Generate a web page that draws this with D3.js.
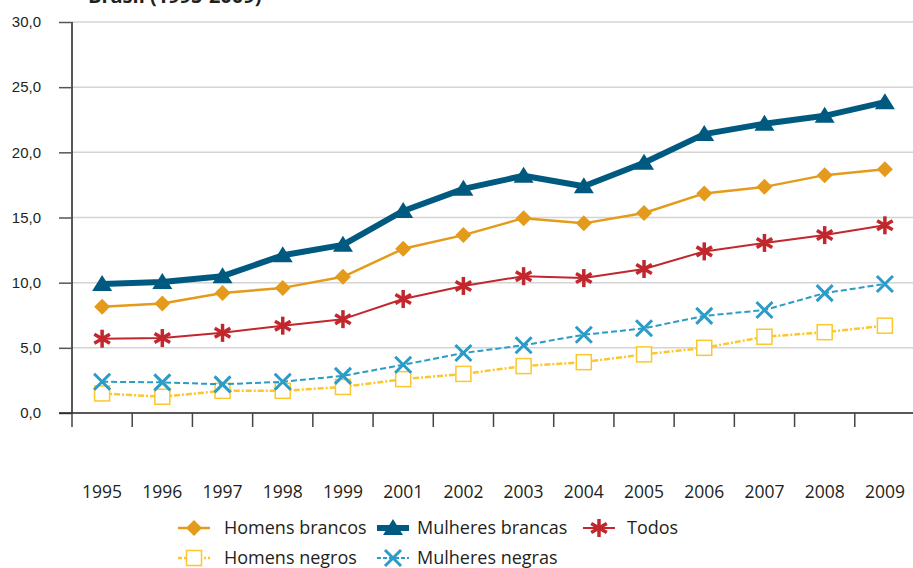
<!DOCTYPE html>
<meta charset="utf-8">
<style>
body { margin: 0; background: #fff; font-family: 'Open Sans', 'DejaVu Sans', sans-serif; }
svg { display: block; }
.ylab { font-size: 15px; fill: #231f20; }
.xlab { font-size: 17.5px; fill: #231f20; }
.leg { font-size: 18px; fill: #231f20; }
</style>
<body>
<div id="chart"></div>
<script src="https://cdn.jsdelivr.net/npm/d3@7"></script>
<script>
var years = ['1995','1996','1997','1998','1999','2001','2002','2003','2004','2005','2006','2007','2008','2009'];
var yTicks = [0, 5, 10, 15, 20, 25, 30];

var homensBrancos = [8.15, 8.4, 9.2, 9.6, 10.45, 12.6, 13.65, 14.95, 14.55, 15.35, 16.85, 17.35, 18.25, 18.7];
var mulheresBrancas = [9.9, 10.05, 10.5, 12.1, 12.9, 15.5, 17.2, 18.2, 17.4, 19.2, 21.4, 22.2, 22.8, 23.85];
var todos = [5.7, 5.75, 6.15, 6.7, 7.2, 8.75, 9.75, 10.5, 10.35, 11.05, 12.4, 13.05, 13.65, 14.4];
var homensNegros = [1.5, 1.25, 1.7, 1.7, 2.0, 2.6, 3.0, 3.6, 3.9, 4.5, 5.0, 5.85, 6.2, 6.7];
var mulheresNegras = [2.4, 2.35, 2.2, 2.4, 2.85, 3.7, 4.6, 5.2, 6.0, 6.5, 7.45, 7.9, 9.2, 9.9];

var series = [
  {name: 'Homens negros', values: homensNegros, color: '#fcc72e', width: 2.5, dash: '6,2,2,2', marker: 'square'},
  {name: 'Mulheres negras', values: mulheresNegras, color: '#2b9cc7', width: 2, dash: '6,3', marker: 'x'},
  {name: 'Todos', values: todos, color: '#c1272d', width: 2, dash: null, marker: 'star'},
  {name: 'Homens brancos', values: homensBrancos, color: '#e49b1c', width: 2.5, dash: null, marker: 'diamond'},
  {name: 'Mulheres brancas', values: mulheresBrancas, color: '#005a80', width: 6, dash: null, marker: 'triangle'}
];

var W = 913, H = 568;
var svg = d3.select('#chart').append('svg').attr('width', W).attr('height', H);

var x = d3.scaleBand().domain(years).range([72, 915]);
var y = d3.scaleLinear().domain([0, 30]).range([413, 22]);

// title (cropped at top, as in the source)
svg.append('text')
  .attr('x', 88).attr('y', 3)
  .style('font-size', '20px').style('font-weight', 'bold').style('fill', '#231f20')
  .text('Brasil (1995-2009)');

// gridlines
svg.selectAll('.grid').data(yTicks.filter(function(d){ return d > 0; }))
  .enter().append('line')
  .attr('x1', 72).attr('x2', W)
  .attr('y1', function(d){ return y(d); }).attr('y2', function(d){ return y(d); })
  .attr('stroke', '#d4d4d4').attr('stroke-width', 1.5);

// y axis
var yAxis = d3.axisLeft(y).tickValues(yTicks).tickSize(13).tickPadding(18)
  .tickFormat(function(d){ return d3.format('.1f')(d).replace('.', ','); });
var gy = svg.append('g').attr('transform', 'translate(72,0)').call(yAxis);
gy.select('.domain').attr('stroke', '#231f20').attr('stroke-width', 1.5).attr('d', 'M0,' + y(30) + 'V' + y(0));
gy.selectAll('.tick line').attr('stroke', '#555').attr('stroke-width', 1.5);
gy.selectAll('.tick text').attr('class', 'ylab').style('font-family', null).attr('font-size', null).attr('fill', null);

// x axis
svg.append('line').attr('x1', 59).attr('x2', W).attr('y1', y(0)).attr('y2', y(0))
  .attr('stroke', '#231f20').attr('stroke-width', 1.5);
var edges = years.map(function(d){ return x(d); });
svg.selectAll('.xtick').data(edges).enter().append('line')
  .attr('x1', function(d){ return d; }).attr('x2', function(d){ return d; })
  .attr('y1', y(0)).attr('y2', y(0) + 14)
  .attr('stroke', '#444').attr('stroke-width', 1.5);
svg.selectAll('.xlab').data(years).enter().append('text')
  .attr('class', 'xlab')
  .attr('x', function(d){ return x(d) + x.bandwidth() / 2; })
  .attr('y', 498)
  .attr('text-anchor', 'middle')
  .text(function(d){ return d; });

function drawMarker(g, type, color, cx, cy) {
  if (type === 'triangle') {
    g.append('path').attr('d', 'M' + cx + ',' + (cy - 9) + 'L' + (cx + 10) + ',' + (cy + 7) + 'L' + (cx - 10) + ',' + (cy + 7) + 'Z')
      .attr('fill', color);
  } else if (type === 'diamond') {
    g.append('path').attr('d', 'M' + cx + ',' + (cy - 8) + 'L' + (cx + 8) + ',' + cy + 'L' + cx + ',' + (cy + 8) + 'L' + (cx - 8) + ',' + cy + 'Z')
      .attr('fill', color);
  } else if (type === 'star') {
    var r = 9;
    [0, 60, 120].forEach(function(a) {
      var rad = (a + 90) * Math.PI / 180;
      g.append('line')
        .attr('x1', cx - r * Math.cos(rad)).attr('y1', cy - r * Math.sin(rad))
        .attr('x2', cx + r * Math.cos(rad)).attr('y2', cy + r * Math.sin(rad))
        .attr('stroke', color).attr('stroke-width', 3.5);
    });
  } else if (type === 'x') {
    var s = 8;
    g.append('path').attr('d', 'M' + (cx - s) + ',' + (cy - s) + 'L' + (cx + s) + ',' + (cy + s) + 'M' + (cx + s) + ',' + (cy - s) + 'L' + (cx - s) + ',' + (cy + s))
      .attr('stroke', color).attr('stroke-width', 3).attr('fill', 'none');
  } else if (type === 'square') {
    g.append('rect').attr('x', cx - 7.5).attr('y', cy - 7.5).attr('width', 15).attr('height', 15)
      .attr('fill', '#fff').attr('stroke', color).attr('stroke-width', 1.5);
  }
}

var line = d3.line()
  .x(function(d, i){ return x(years[i]) + x.bandwidth() / 2; })
  .y(function(d){ return y(d); });

series.forEach(function(s) {
  var g = svg.append('g');
  g.append('path').datum(s.values)
    .attr('d', line)
    .attr('fill', 'none')
    .attr('stroke', s.color)
    .attr('stroke-width', s.width)
    .attr('stroke-dasharray', s.dash)
    .attr('stroke-linejoin', 'round');
  s.values.forEach(function(v, i) {
    drawMarker(g, s.marker, s.color, x(years[i]) + x.bandwidth() / 2, y(v));
  });
});

// legend
var legendItems = [
  {s: series[3], lx: 178, ly: 528, tx: 224},
  {s: series[4], lx: 377, ly: 528, tx: 417},
  {s: series[2], lx: 583, ly: 528, tx: 627},
  {s: series[0], lx: 178, ly: 558, tx: 224},
  {s: series[1], lx: 377, ly: 558, tx: 417}
];
legendItems.forEach(function(it) {
  var g = svg.append('g');
  g.append('line')
    .attr('x1', it.lx).attr('x2', it.lx + 32)
    .attr('y1', it.ly).attr('y2', it.ly)
    .attr('stroke', it.s.color)
    .attr('stroke-width', it.s.width)
    .attr('stroke-dasharray', it.s.dash === '6,3' ? '4,2' : (it.s.dash ? '4,2,2,2' : null));
  drawMarker(g, it.s.marker, it.s.color, it.lx + 16, it.ly);
  g.append('text').attr('class', 'leg')
    .attr('x', it.tx).attr('y', it.ly + 6)
    .text(it.s.name);
});
</script>
</body>
